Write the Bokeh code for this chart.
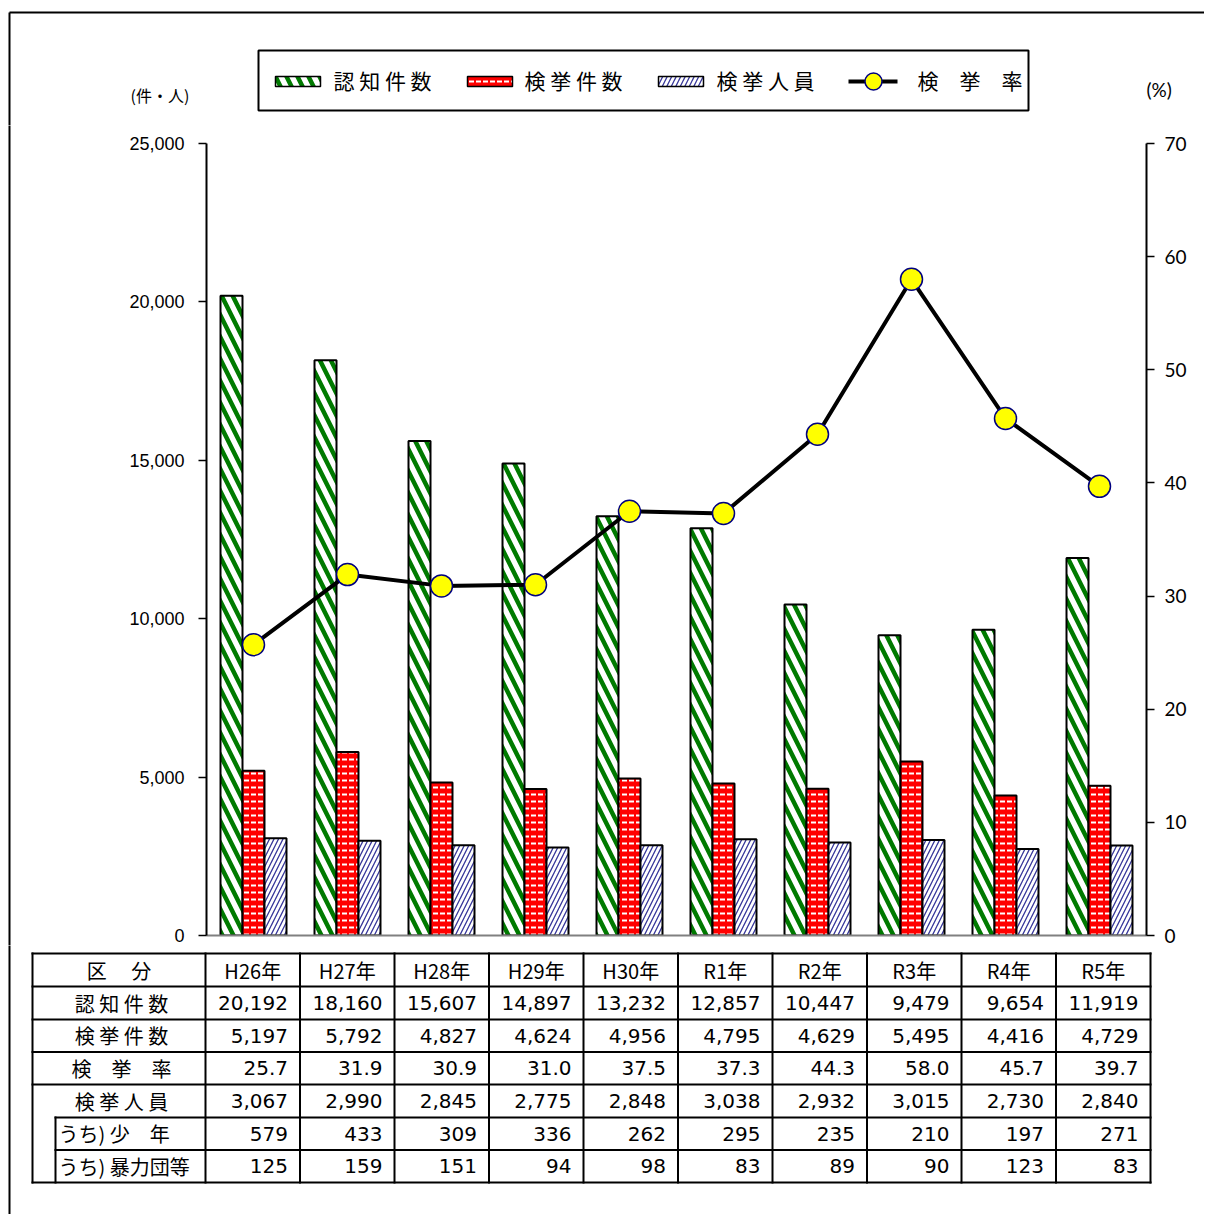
from bokeh.plotting import figure
from bokeh.models import (Range1d, LinearAxis, FixedTicker, NumeralTickFormatter, ColumnDataSource)
from bokeh.core.properties import value
from bokeh.transform import dodge
from bokeh.layouts import column, row
from bokeh.embed import file_html
from bokeh.resources import INLINE

# ---------------- data ----------------
years = ["H26年", "H27年", "H28年", "H29年", "H30年", "R1年", "R2年", "R3年", "R4年", "R5年"]
ninchi = [20192, 18160, 15607, 14897, 13232, 12857, 10447, 9479, 9654, 11919]
kenkyo = [5197, 5792, 4827, 4624, 4956, 4795, 4629, 5495, 4416, 4729]
rate = [25.7, 31.9, 30.9, 31.0, 37.5, 37.3, 44.3, 58.0, 45.7, 39.7]
jinin = [3067, 2990, 2845, 2775, 2848, 3038, 2932, 3015, 2730, 2840]
shonen = [579, 433, 309, 336, 262, 295, 235, 210, 197, 271]
boryoku = [125, 159, 151, 94, 98, 83, 89, 90, 123, 83]
left_ticks = [0, 5000, 10000, 15000, 20000, 25000]
right_ticks = [0, 10, 20, 30, 40, 50, 60, 70]
series_names = ["認 知 件 数", "検 挙 件 数", "検 挙 人 員", "検　挙　率"]
row_labels = ["認 知 件 数", "検 挙 件 数", "検　挙　率", "検 挙 人 員", "うち) 少　年", "うち) 暴力団等"]
header_label = "区　 分"
unit_left = "(件・人)"
unit_right = "(%)"

# ---------------- layout (page pixel coords) ----------------
W = 1204
TOP_H = 125          # page y 0..125
MID_Y0, MID_Y1 = 125, 945
BOT_Y0, BOT_Y1 = 945, 1214
STRIP_W = 20
FL, FR, FT, FB = 206, 1146, 143, 935
N = len(years)
YMAX = 25000
JP = "Noto Sans CJK JP"
NUM = "DejaVu Sans"

GREEN = dict(fill_color="white", hatch_pattern="left_diagonal_line", hatch_color="#007a00",
             hatch_weight=4.5, hatch_scale=22)
RED = dict(fill_color="#ff0000", hatch_pattern="horizontal_dash", hatch_color="white",
           hatch_weight=2, hatch_scale=7)
BLUE = dict(fill_color="white", hatch_pattern="right_diagonal_line", hatch_color="#36369a",
            hatch_weight=1.3, hatch_scale=9)


def canvas_fig(w, h):
    f = figure(width=w, height=h, x_range=Range1d(0, w), y_range=Range1d(h, 0),
               x_axis_type=None, y_axis_type=None, title=None, min_border=0,
               min_border_left=0, min_border_right=0, min_border_top=0, min_border_bottom=0,
               output_backend="svg", toolbar_location=None)
    f.outline_line_color = None
    f.xgrid.visible = False
    f.ygrid.visible = False
    f.background_fill_color = "white"
    f.border_fill_color = "white"
    return f


# ---------------- top: frame, legend, unit titles ----------------
top = canvas_fig(W, TOP_H)
top.segment(x0=[9, 9], y0=[12, 12], x1=[W + 5, 9], y1=[12, TOP_H + 2], line_color="black",
            line_width=2)
top.rect(x=[(258 + 1028) / 2], y=[80], width=[770], height=[60], fill_color="white",
         line_color="black", line_width=2)
sw_x = [275, 467, 658]
for sx, sty in zip(sw_x, [GREEN, RED, BLUE]):
    top.rect(x=[sx + 22.5], y=[81], width=[45], height=[10], line_color="black",
             line_width=1.5, **sty)
top.segment(x0=[848], y0=[81], x1=[897], y1=[81], line_color="black", line_width=4)
top.scatter(x=[873], y=[81], size=17, fill_color="#ffff00", line_color="#000080",
            line_width=1.5)
top.text(x=[333, 524, 716, 917], y=[79, 79, 79, 79], text=series_names,
         text_font=value(JP), text_font_size=value("21px"), text_baseline="middle",
         text_align="left", text_color="black")
top.text(x=[130], y=[94], text=[unit_left], text_font=value(JP),
         text_font_size=value("16px"), text_baseline="middle", text_align="left",
         text_color="black")
top.text(x=[1146], y=[89], text=[unit_right], text_font=value("Lato"),
         text_font_size=value("19px"), text_baseline="middle", text_align="left",
         text_color="black")

# ---------------- left strip (outer frame line) ----------------
strip = canvas_fig(STRIP_W, MID_Y1 - MID_Y0)
strip.segment(x0=[9], y0=[-2], x1=[9], y1=[MID_Y1 - MID_Y0 + 2], line_color="black",
              line_width=2)

# ---------------- chart ----------------
p = figure(width=W - STRIP_W, height=MID_Y1 - MID_Y0, x_range=Range1d(0, N),
           y_range=Range1d(0, YMAX), title=None,
           output_backend="svg", toolbar_location=None,
           min_border_left=FL - STRIP_W, min_border_right=W - FR,
           min_border_top=FT - MID_Y0, min_border_bottom=MID_Y1 - FB)
p.outline_line_color = None
p.xgrid.visible = False
p.ygrid.visible = False
p.background_fill_color = "white"
p.border_fill_color = "white"

ya = p.yaxis[0]
ya.ticker = FixedTicker(ticks=left_ticks)
ya.formatter = NumeralTickFormatter(format="0,0")
ya.major_tick_out = 8
ya.major_tick_in = 0
ya.minor_tick_line_color = None
ya.axis_line_width = 2
ya.major_tick_line_width = 1.5
ya.major_label_standoff = 14
ya.major_label_text_font = "Liberation Sans"
ya.major_label_text_font_size = "18px"
ya.major_label_text_color = "black"

xa = p.xaxis[0]
xa.ticker = FixedTicker(ticks=[])
xa.major_tick_line_color = None
xa.minor_tick_line_color = None
xa.major_label_text_font_size = "0px"
xa.major_label_standoff = 0
xa.major_tick_out = 0
xa.axis_line_color = "#808080"
xa.axis_line_width = 2

p.extra_y_ranges = {"rate": Range1d(0, 70)}
ra = LinearAxis(y_range_name="rate", ticker=FixedTicker(ticks=right_ticks))
ra.major_tick_out = 8
ra.major_tick_in = 0
ra.minor_tick_line_color = None
ra.axis_line_width = 2
ra.major_tick_line_width = 1.5
ra.major_label_standoff = 10
ra.major_label_text_font = "Lato"
ra.major_label_text_font_size = "19px"
ra.major_label_text_color = "black"
p.add_layout(ra, "right")

src = ColumnDataSource(dict(x=[i + 0.5 for i in range(N)], ninchi=ninchi, kenkyo=kenkyo,
                            jinin=jinin, rate=rate))
bw = 0.234
p.vbar(x=dodge("x", -bw, range=p.x_range), top="ninchi", width=bw, source=src,
       line_color="black", line_width=2, **GREEN)
p.vbar(x=dodge("x", 0, range=p.x_range), top="kenkyo", width=bw, source=src,
       line_color="black", line_width=2, **RED)
p.vbar(x=dodge("x", bw, range=p.x_range), top="jinin", width=bw, source=src,
       line_color="black", line_width=2, **BLUE)
p.line(x="x", y="rate", source=src, y_range_name="rate", line_color="black", line_width=4)
p.scatter(x="x", y="rate", source=src, y_range_name="rate", size=22,
          fill_color="#ffff00", line_color="#000080", line_width=1.5)

# ---------------- table ----------------
tb = canvas_fig(W, BOT_Y1 - BOT_Y0)
o = BOT_Y0
RB = [953, 986, 1019, 1051.5, 1084, 1117, 1149.5, 1182]
TL, C0, TR = 32, 205, 1150
CW = (TR - C0) / N
CB = [C0 + CW * i for i in range(N + 1)]

hx0, hy0, hx1, hy1 = [], [], [], []
for i, yb in enumerate(RB):
    x_start = 55 if i in (5, 6) else TL
    hx0.append(x_start); hx1.append(TR); hy0.append(yb - o); hy1.append(yb - o)
for xb in [TL] + CB:
    hx0.append(xb); hx1.append(xb); hy0.append(RB[0] - o); hy1.append(RB[-1] - o)
hx0.append(55); hx1.append(55); hy0.append(RB[5] - o); hy1.append(RB[-1] - o)
hx0.append(9); hx1.append(9); hy0.append(-2); hy1.append(BOT_Y1 - BOT_Y0 + 2)
tb.segment(x0=hx0, y0=hy0, x1=hx1, y1=hy1, line_color="black", line_width=2,
           line_cap="square")

mid = [(RB[i] + RB[i + 1]) / 2 - o for i in range(7)]
tb.text(x=[(TL + C0) / 2], y=[mid[0]], text=[header_label], text_font=value(JP),
        text_font_size=value("20px"), text_align="center", text_baseline="middle",
        text_color="black")
tb.text(x=[(CB[c] + CB[c + 1]) / 2 for c in range(N)], y=[mid[0]] * N, text=years,
        text_font=value(JP), text_font_size=value("20px"), text_align="center",
        text_baseline="middle", text_color="black")
tb.text(x=[121] * 4, y=mid[1:5], text=row_labels[:4], text_font=value(JP),
        text_font_size=value("20px"), text_align="center", text_baseline="middle",
        text_color="black")
tb.text(x=[58] * 2, y=mid[5:7], text=row_labels[4:], text_font=value(JP),
        text_font_size=value("20px"), text_align="left", text_baseline="middle",
        text_color="black")

rows = [[f"{v:,}" for v in ninchi], [f"{v:,}" for v in kenkyo], [f"{v:.1f}" for v in rate],
        [f"{v:,}" for v in jinin], [f"{v:,}" for v in shonen], [f"{v:,}" for v in boryoku]]
for r in range(6):
    tb.text(x=[CB[c + 1] - 12 for c in range(N)], y=[mid[r + 1]] * N, text=rows[r],
            text_font=value(NUM), text_font_size=value("20px"), text_align="right",
            text_baseline="middle", text_color="black")

layout = column(top, row(column(strip, spacing=0), p, spacing=0), tb, spacing=0)
open("out.html", "w").write(file_html(layout, INLINE))
